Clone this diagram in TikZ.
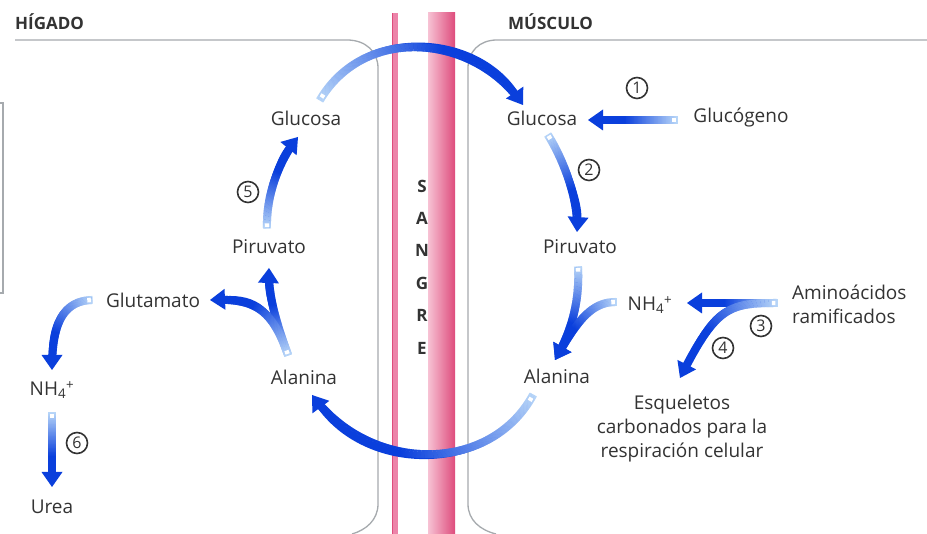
\documentclass[tikz,border=0pt]{standalone}
\usepackage{fontspec}
\setmainfont{Open Sans}
\usetikzlibrary{arrows.meta,calc,decorations.markings}
\definecolor{FlowDark}{HTML}{0A3FDC}
\definecolor{FlowLight}{HTML}{B8D6F8}
\definecolor{InkGray}{HTML}{333333}
\definecolor{WallGray}{HTML}{A6AAAE}
\definecolor{VesselPink}{HTML}{EC84A9}
\definecolor{VesselRose}{HTML}{F7C2D4}
\definecolor{VesselDeep}{HTML}{DE4C7C}
\tikzset{
  lbl/.style={text=InkGray,font=\fontsize{19}{24}\selectfont,inner sep=2pt},
  hdr/.style={text=InkGray,font=\fontsize{17}{18}\selectfont\bfseries,anchor=west,inner sep=0pt},
  stepnum/.style={circle,draw=InkGray,line width=1.6pt,minimum size=21pt,inner sep=0pt,
    text=InkGray,font=\fontsize{16}{16}\selectfont},
  wall/.style={WallGray,line width=1.3pt},
  flow/.style={FlowDark,line width=6.5pt,-{Triangle[width=21pt,length=15pt,line width=0pt]},
    postaction={decorate,decoration={markings,
      mark=between positions 0 and -12pt step 0.8pt with {
        \pgfmathsetmacro\gp{min(100,(\pgfkeysvalueof{/pgf/decoration/mark info/distance from start}/\pgfdecoratedpathlength)*170)}
        \fill[FlowDark!\gp!FlowLight] (-0.6pt,-4pt) rectangle (0.6pt,4pt);},
      mark=at position 3pt with {\fill[white] (-1.8pt,-2.2pt) rectangle (1.8pt,2.2pt);}}}},
}
\begin{document}
\begin{tikzpicture}[x=1pt,y=1pt]
  \useasboundingbox (0,0) rectangle (927,534);
  \fill[white] (0,0) rectangle (927,534);
  % cell walls and blood vessel
  \draw[wall] (0,431) -- (3,431) -- (3,241) -- (0,241);
  \draw[wall] (15,494) -- (347,494) .. controls (366,494) and (378,482) .. (378,466)
    -- (378,30) .. controls (378,14) and (366,4) .. (352,0);
  \draw[wall] (927,494) -- (497,494) .. controls (479,494) and (468,482) .. (468,466)
    -- (468,30) .. controls (468,14) and (480,4) .. (496,0);
  \fill[VesselPink] (392,0) rectangle (398,521);
  \draw[VesselDeep,line width=0.8pt] (392.4,0) -- (392.4,521);
  \shade[left color=VesselRose,right color=VesselDeep] (428,0) rectangle (455,521);
  \foreach \ch [count=\k] in {S,A,N,G,R,E}
    \node[lbl,font=\fontsize{17}{17}\selectfont\bfseries] (sangre\k) at (422,{348-32.4*(\k-1)}) {\ch};

  \node[hdr] (liverhd) at (15,512) {HÍGADO};
  \node[hdr] (musclehd) at (508,512) {MÚSCULO};

  % metabolites
  \node[lbl] (gluL) at (306,416) {Glucosa};
  \node[lbl] (gluR) at (542,416) {Glucosa};
  \node[lbl] (glyc) at (741,416) {Glucógeno};
  \node[lbl] (pirL) at (269,287) {Piruvato};
  \node[lbl] (pirR) at (580,287) {Piruvato};
  \node[lbl] (glut) at (153,234) {Glutamato};
  \node[lbl] (nhL) at (52,144) {NH\textsubscript{4}\textsuperscript{+}};
  \node[lbl] (urea) at (52,27) {Urea};
  \node[lbl] (alaL) at (304,157) {Alanina};
  \node[lbl] (alaR) at (557,158) {Alanina};
  \node[lbl] (nhR) at (650,229) {NH\textsubscript{4}\textsuperscript{+}};
  \node[lbl,anchor=west,align=left] (amino) at (790,230) {Aminoácidos\\ramificados};
  \node[lbl,align=center] (esq) at (682,105) {Esqueletos\\carbonados para la\\respiración celular};

  % steps
  \node[stepnum] (st1) at (637,446) {1};
  \node[stepnum] (st2) at (589,364) {2};
  \node[stepnum] (st3) at (761,208) {3};
  \node[stepnum] (st4) at (723,186) {4};
  \node[stepnum] (st5) at (248,342) {5};
  \node[stepnum] (st6) at (77,91) {6};

  % flows
  \draw[flow] ($(gluL)+(14,18)$) .. controls (365,510) and (475,500) .. ($(gluR)+(-19,13)$);
  \draw[flow] ($(alaR)+(-24,-19)$) .. controls (490,60) and (370,60) .. ($(alaL)+(8,-18)$);
  \draw[flow] ($(glyc)+(-64,-2)$) -- ($(gluR)+(46,-2)$);
  \draw[flow] ($(gluR)+(6,-17)$) .. controls (566,370) and (579,330) .. ($(pirR)+(-3,15)$);
  \draw[flow] ($(pirR)+(-2,-20)$) .. controls (580,230) and (570,200) .. ($(alaR)+(-2,16)$);
  \draw[flow] ($(nhR)+(-34,3)$) .. controls (592,232) and (578,215) .. ($(alaR)+(-2,16)$);
  \draw[flow] ($(amino.west)+(-13,1)$) -- ($(nhR)+(37,2)$);
  \draw[flow] ($(amino.west)+(-13,1)$) .. controls (728,231) and (716,227) .. ($(esq)+(-2,51)$);
  \draw[flow] ($(alaL)+(-16,22)$) .. controls (275,215) and (268,240) .. ($(pirL)+(0,-21)$);
  \draw[flow] ($(alaL)+(-16,22)$) .. controls (272,225) and (255,236) .. ($(glut)+(57,0)$);
  \draw[flow] ($(pirL)+(-2,19)$) .. controls (266,340) and (280,375) .. ($(gluL)+(-8,-19)$);
  \draw[flow] ($(glut)+(-61,0)$) .. controls (60,233) and (52,205) .. ($(nhL)+(0,20)$);
  \draw[flow] ($(nhL)+(0,-23)$) -- ($(urea)+(0,20)$);
\end{tikzpicture}
\end{document}
